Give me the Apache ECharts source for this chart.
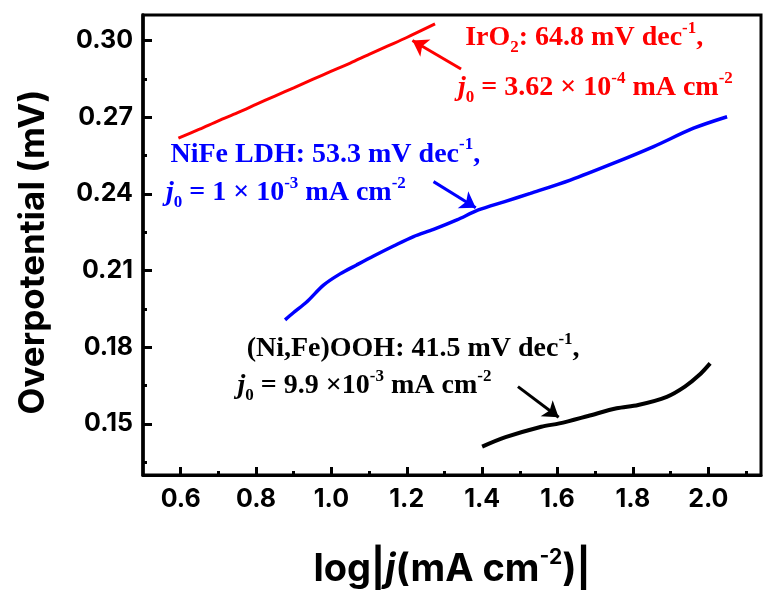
<!DOCTYPE html>
<html><head><meta charset="utf-8">
<script src="https://cdn.jsdelivr.net/npm/echarts@6/dist/echarts.min.js"></script>
<style>html,body{margin:0;padding:0;background:#fff}#c{width:763px;height:592px}</style>
</head><body><div id="c"></div>
<script>
// ---- data ----
const xTicks = [0.6, 0.8, 1.0, 1.2, 1.4, 1.6, 1.8, 2.0];
const xMinorTicks = [0.7, 0.9, 1.1, 1.3, 1.5, 1.7, 1.9, 2.1];
const yTicks = [0.15, 0.18, 0.21, 0.24, 0.27, 0.30];
const yMinorTicks = [0.135, 0.165, 0.195, 0.225, 0.255, 0.285];

const iro2 = [[0.594,0.2618],[0.65,0.2653],[0.7,0.2686],[0.75,0.2717],[0.8,0.2750],[0.85,0.2783],[0.9,0.2815],[0.95,0.2848],[1.0,0.2880],[1.05,0.2912],[1.1,0.2946],[1.15,0.2979],[1.2,0.3012],[1.275,0.3065]];
const nifeLdh = [[0.877,0.1907],[0.899,0.1935],[0.935,0.1978],[0.979,0.2043],[1.023,0.2087],[1.067,0.2122],[1.112,0.2157],[1.165,0.2196],[1.218,0.2233],[1.271,0.2261],[1.333,0.2298],[1.390,0.2337],[1.460,0.2370],[1.528,0.2402],[1.634,0.2454],[1.749,0.2520],[1.855,0.2585],[1.961,0.2657],[2.050,0.2702]];
const nifeOoh = [[1.40,0.1411],[1.462,0.1448],[1.557,0.1489],[1.605,0.1502],[1.681,0.1531],[1.757,0.1561],[1.814,0.1574],[1.890,0.1606],[1.938,0.1646],[1.976,0.1691],[2.005,0.1737]];

// arrows: [tail, tip]
const arrowIrO2 = [[1.344,0.2889],[1.215,0.3000]];
const arrowLdh = [[1.271,0.2448],[1.383,0.2346]];
const arrowOoh = [[1.495,0.1646],[1.603,0.1526]];

// annotation texts and anchor points (left edge, vertical middle)
const textIrO2 = ['{t|IrO}{sub2|2}{t|: 64.8 mV dec}{sup|-1}{t|,}', '{j|j}{sub|0}{t| = 3.62 × 10}{sup|-4}{t| mA cm}{sup|-2}'];
const posIrO2 = [[1.355,0.3010],[1.336,0.2814]];
const textLdh = ['{t|NiFe LDH: 53.3 mV dec}{sup|-1}{t|,}', '{j|j}{sub|0}{t| = 1 × 10}{sup|-3}{t| mA cm}{sup|-2}'];
const posLdh = [[0.573,0.2554],[0.561,0.2404]];
const textOoh = ['{t|(Ni,Fe)OOH: 41.5 mV dec}{sup|-1}{t|,}', '{j|j}{sub|0}{t| = 9.9 ×10}{sup|-3}{t| mA cm}{sup|-2}'];
const posOoh = [[0.775,0.1793],[0.751,0.1648]];

const xName = '{a|log}{bar||}{j|j}{a|(mA cm}{sup|-2}{a|)}{bar||}';
const yName = 'Overpotential (mV)';

// ---- styles ----
const SERIF = '"Liberation Serif","Times New Roman",serif';
const SANS = 'Inter, "Liberation Sans", Arial, sans-serif';
function richStyles(color){
  const base = {fontFamily:SERIF, fontWeight:'bold', color:color, fontSize:28, lineHeight:36, opacity:1};
  return {
    t: base,
    j: Object.assign({}, base, {fontStyle:'italic'}),
    sup: Object.assign({}, base, {fontSize:17, lineHeight:22, verticalAlign:'top'}),
    sub: Object.assign({}, base, {fontSize:17, lineHeight:25, verticalAlign:'bottom'}),
    sub2: Object.assign({}, base, {fontSize:17, lineHeight:5, verticalAlign:'bottom'})
  };
}
function annotSeries(texts, pos, color){
  return {
    type:'scatter', xAxisIndex:0, yAxisIndex:0, symbolSize:0, silent:true, z:10,
    itemStyle:{opacity:1},
    data: pos.map((p,i)=>({value:p, label:{formatter:texts[i], rich:richStyles(color)}})),
    label:{show:true, position:'right', distance:0, opacity:1}
  };
}
function curve(data, color, width, arrow){
  return {
    type:'line', xAxisIndex:0, yAxisIndex:0, data:data, showSymbol:false, smooth:0.3,
    lineStyle:{color:color, width:width}, itemStyle:{color:color}, silent:true, z:4,
    markLine:{silent:true, symbol:['none','arrow'], symbolSize:15, label:{show:false},
      lineStyle:{color:color, width:3, type:'solid'},
      emphasis:{disabled:true},
      data:[[{coord:arrow[0]},{coord:arrow[1]}]]}
  };
}
const tickFont = {color:'#000', fontFamily:SANS, fontWeight:'bold', fontSize:25};
const gridRect = {left:143, right:2, top:15, bottom:117, containLabel:false, outerBoundsMode:'none'};

const option = {
  animation:false,
  backgroundColor:'#fff',
  grid:[
    Object.assign({show:true, borderColor:'#000', borderWidth:3, backgroundColor:'transparent'}, gridRect),
    Object.assign({show:false}, gridRect)
  ],
  xAxis:[
    {type:'value', gridIndex:0, min:0.5, max:2.14, position:'bottom',
     axisLine:{show:true, onZero:false, lineStyle:{color:'#000', width:3}},
     axisTick:{show:true, inside:true, length:8, customValues:xTicks, lineStyle:{color:'#000', width:3}},
     axisLabel:Object.assign({customValues:xTicks, margin:12, formatter:v=>v.toFixed(1)}, tickFont),
     splitLine:{show:false},
     name:xName, nameLocation:'middle', nameGap:72,
     nameTextStyle:{rich:{
       a:{fontFamily:SANS, fontWeight:'bold', fontSize:38, color:'#000', lineHeight:46},
       bar:{fontFamily:SANS, fontWeight:'bold', fontSize:38, color:'#000', lineHeight:46},
       j:{fontFamily:SANS, fontWeight:'bold', fontStyle:'italic', fontSize:38, color:'#000', lineHeight:46},
       sup:{fontFamily:SANS, fontWeight:'bold', fontSize:21, color:'#000', lineHeight:36, verticalAlign:'top'}
     }}},
    {type:'value', gridIndex:1, min:0.5, max:2.14, position:'bottom',
     axisLine:{show:false, onZero:false},
     axisTick:{show:true, inside:true, length:4, customValues:xMinorTicks, lineStyle:{color:'#000', width:3}},
     axisLabel:{show:false}, splitLine:{show:false}}
  ],
  yAxis:[
    {type:'value', gridIndex:0, min:0.13, max:0.31, position:'left',
     axisLine:{show:true, onZero:false, lineStyle:{color:'#000', width:3.5}},
     axisTick:{show:true, inside:true, length:9, customValues:yTicks, lineStyle:{color:'#000', width:3}},
     axisLabel:Object.assign({customValues:yTicks, margin:10, formatter:v=>v.toFixed(2)}, tickFont),
     splitLine:{show:false},
     name:yName, nameLocation:'middle', nameGap:92,
     nameTextStyle:{fontFamily:SANS, fontWeight:'bold', fontSize:35, color:'#000', padding:[0,14,0,0]}},
    {type:'value', gridIndex:1, min:0.13, max:0.31, position:'left',
     axisLine:{show:false, onZero:false},
     axisTick:{show:true, inside:true, length:4, customValues:yMinorTicks, lineStyle:{color:'#000', width:3}},
     axisLabel:{show:false}, splitLine:{show:false}}
  ],
  series:[
    curve(iro2, '#ff0000', 3, arrowIrO2),
    curve(nifeLdh, '#0000ff', 3.5, arrowLdh),
    curve(nifeOoh, '#000000', 4, arrowOoh),
    annotSeries(textIrO2, posIrO2, '#ff0000'),
    annotSeries(textLdh, posLdh, '#0000ff'),
    annotSeries(textOoh, posOoh, '#000000')
  ]
};
const chart = echarts.init(document.getElementById('c'), null, {renderer:'canvas'});
chart.setOption(option);
</script></body></html>
